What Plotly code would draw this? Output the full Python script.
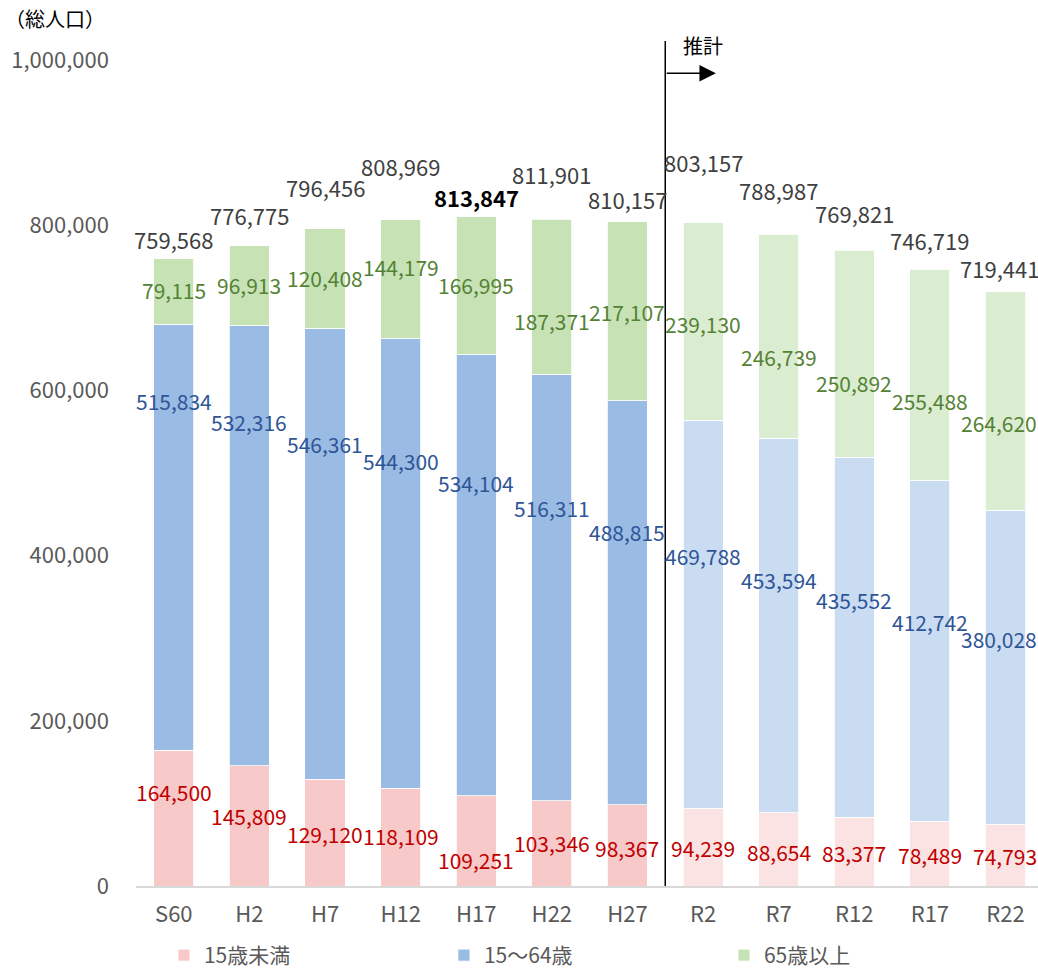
import plotly.graph_objects as go

# ---------------- data ----------------
years = ["S60", "H2", "H7", "H12", "H17", "H22", "H27",
         "R2", "R7", "R12", "R17", "R22"]
under15 = [164500, 145809, 129120, 118109, 109251, 103346, 98367,
           94239, 88654, 83377, 78489, 74793]
age15_64 = [515834, 532316, 546361, 544300, 534104, 516311, 488815,
            469788, 453594, 435552, 412742, 380028]
over65 = [79115, 96913, 120408, 144179, 166995, 187371, 217107,
          239130, 246739, 250892, 255488, 264620]
totals = [759568, 776775, 796456, 808969, 813847, 811901, 810157,
          803157, 788987, 769821, 746719, 719441]
series_names = ["15歳未満", "15～64歳", "65歳以上"]
n_actual = 7          # S60..H27 are census values, R2.. are projections
peak_year = "H17"

# ---------------- styling ----------------
FONT = "Noto Sans CJK JP"
col_actual = ["#F8C9C9", "#99BBE4", "#C7E3B6"]
col_proj = ["#FCE3E3", "#CADCF2", "#DBEDD0"]
txt_col = ["#C00000", "#2F5597", "#548235"]
# manual label offsets (pixels, up positive) as placed in the original chart
under_shift = [26, 10, -1, 1, -19, 0, -3, -1, -3, -1, -1, -1]
mid_shift = [136, 124, 110, 103, 92, 79, 71, 58, 45, 37, 29, 28]
old_shift = [1, 1, 0, 12, 1, -24, -1, -3, -21, -29, -26, -22]
total_shift = [20, 31, 42, 54, 20, 45, 23, 61, 44, 37, 29, 24]
edge_xshift = [0, -6, -6, -6]   # last column labels nudged inside the page (per series + total)

series = [under15, age15_64, over65]
shifts = [under_shift, mid_shift, old_shift]
last = len(years) - 1

fig = go.Figure()
for k, vals in enumerate(series):
    colors = [col_actual[k] if i < n_actual else col_proj[k] for i in range(len(years))]
    fig.add_trace(go.Bar(
        x=years, y=vals, name=series_names[k],
        marker=dict(color=colors, line=dict(color="white", width=0.8)),
        width=0.53, hoverinfo="x+y",
    ))

annotations = []
base = [0] * len(years)
for k, vals in enumerate(series):
    for i, v in enumerate(vals):
        annotations.append(dict(
            x=years[i], y=base[i] + v / 2, xref="x", yref="y",
            text=f"{v:,}", showarrow=False, yanchor="middle",
            yshift=shifts[k][i], xshift=edge_xshift[k] if i == last else 0,
            font=dict(family=FONT, size=21, color=txt_col[k]),
        ))
    base = [b + v for b, v in zip(base, vals)]

for i, t in enumerate(totals):
    bold = years[i] == peak_year
    annotations.append(dict(
        x=years[i], y=base[i], xref="x", yref="y",
        text=(f"<b>{t:,}</b>" if bold else f"{t:,}"), showarrow=False,
        yanchor="middle", yshift=total_shift[i],
        xshift=edge_xshift[3] if i == last else 0,
        font=dict(family=FONT, size=22, color="#000000" if bold else "#404040"),
    ))

# projection marker
split = n_actual - 0.5
annotations.append(dict(
    x=split + 0.67, y=984000, ax=split, ay=984000,
    xref="x", yref="y", axref="x", ayref="y",
    text="", showarrow=True, arrowhead=2, arrowsize=2.2, arrowwidth=1.5,
    arrowcolor="#000000",
))
annotations.append(dict(
    x=n_actual, y=1018000, xref="x", yref="y", text="推計",
    showarrow=False, yanchor="middle",
    font=dict(family=FONT, size=20, color="#000000"),
))
annotations.append(dict(
    x=-0.148, y=1.027, xref="paper", yref="paper", text="（総人口）",
    showarrow=False, xanchor="left", yanchor="middle",
    font=dict(family=FONT, size=20, color="#000000"),
))

fig.add_shape(type="line", xref="x", yref="y", x0=split, x1=split,
              y0=0, y1=1023000, line=dict(color="#000000", width=1.5))

fig.update_layout(
    barmode="stack",
    width=1038, height=971,
    margin=dict(l=136, r=0, t=41, b=85),
    paper_bgcolor="white", plot_bgcolor="white",
    font=dict(family=FONT, size=21, color="#595959"),
    annotations=annotations,
    showlegend=True,
    legend=dict(orientation="h", x=0.031, xref="paper", y=0.016, yref="container",
                xanchor="left", yanchor="middle",
                entrywidth=235, entrywidthmode="pixels", itemwidth=30,
                font=dict(family=FONT, size=21, color="#595959"),
                traceorder="normal"),
    xaxis=dict(type="category", categoryorder="array", categoryarray=years,
               range=[-0.5, 11.43], showline=True, linecolor="#D9D9D9",
               linewidth=2, ticks="", showgrid=False, ticklabelstandoff=8,
               tickfont=dict(family=FONT, size=22, color="#595959")),
    yaxis=dict(range=[0, 1023000], tickvals=[0, 200000, 400000, 600000, 800000, 1000000],
               tickformat=",d", showgrid=False, zeroline=False, showline=False,
               ticks="", ticklabelstandoff=26,
               tickfont=dict(family=FONT, size=22, color="#595959")),
)

fig.write_html("out.html")
